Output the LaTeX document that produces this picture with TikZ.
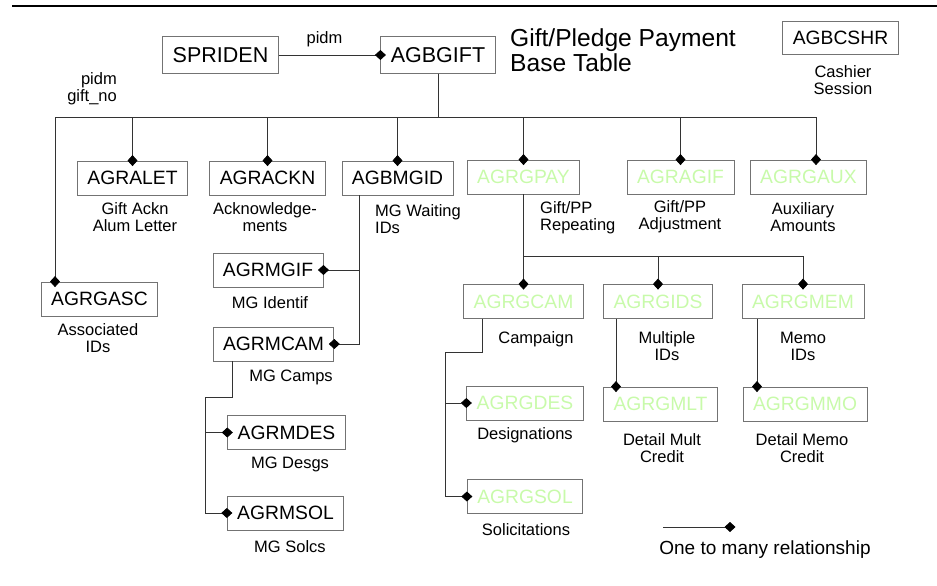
\documentclass[tikz,border=0pt]{standalone}
\usepackage{fontspec}
\setmainfont{Liberation Sans}
\usetikzlibrary{arrows.meta}
\definecolor{tblgreen}{RGB}{200,250,170}
\begin{document}
\begin{tikzpicture}[x=1pt,y=-1pt,
    tbox/.style={draw=black!55,line width=0.8pt,inner xsep=10pt,inner ysep=0pt,
      minimum height=34pt,font=\fontsize{19.3}{20}\selectfont},
    bigtbox/.style={tbox,minimum height=37pt,font=\fontsize{21.5}{22}\selectfont},
    newtbox/.style={tbox,text=tblgreen},
    lbl/.style={font=\fontsize{16.5}{17}\selectfont,align=center,inner sep=0pt},
    rel/.style={draw=black!80,line width=0.8pt,-{Diamond[length=11pt,width=10pt,black]},shorten >=-5.5pt}]
  \useasboundingbox (0,0) rectangle (937,586);
  \draw[line width=2.2pt] (12,6) -- (937,6);

  % Base tables
  \node[bigtbox] (spriden) at (220.5,55) {SPRIDEN};
  \node[bigtbox] (agbgift) at (438,55) {AGBGIFT};
  \node[tbox,minimum height=33pt] (agbcshr) at (840.5,37.5) {AGBCSHR};
  \node[anchor=west,align=left,inner sep=0pt,font=\fontsize{24.6}{25}\selectfont] (title)
    at (510,50.5) {Gift/Pledge Payment\\Base Table};

  % First row
  \node[tbox] (agralet) at (132.5,178) {AGRALET};
  \node[tbox] (agrackn) at (267.5,178) {AGRACKN};
  \node[tbox] (agbmgid) at (397.5,178) {AGBMGID};
  \node[newtbox] (agrgpay) at (523.5,177) {AGRGPAY};
  \node[newtbox] (agragif) at (680.5,177) {AGRAGIF};
  \node[newtbox] (agrgaux) at (808.5,177) {AGRGAUX};
  \node[tbox] (agrgasc) at (99.5,299) {AGRGASC};

  % MG tables
  \node[tbox] (agrmgif) at (268,270) {AGRMGIF};
  \node[tbox] (agrmcam) at (273.5,344) {AGRMCAM};
  \node[tbox] (agrmdes) at (286.5,432.5) {AGRMDES};
  \node[tbox] (agrmsol) at (285.5,513) {AGRMSOL};

  % Repeating tables
  \node[newtbox] (agrgcam) at (523.5,301.5) {AGRGCAM};
  \node[newtbox] (agrgids) at (658,301.5) {AGRGIDS};
  \node[newtbox] (agrgmem) at (803,301.5) {AGRGMEM};
  \node[newtbox] (agrgdes) at (525,403) {AGRGDES};
  \node[newtbox] (agrgsol) at (525,496.5) {AGRGSOL};
  \node[newtbox] (agrgmlt) at (660.5,404) {AGRGMLT};
  \node[newtbox] (agrgmmo) at (805,404) {AGRGMMO};

  % Labels
  \node[lbl] (pidmtop) at (324.5,39) {pidm};
  \node[lbl,anchor=east,align=right] (pidmgift) at (117,89) {pidm\\gift\_no};
  \node[lbl] (lcashier) at (843,80) {Cashier\\Session};
  \node[lbl] (lalet) at (135,217.5) {Gift Ackn\\Alum Letter};
  \node[lbl] (lackn) at (265,217.5) {Acknowledge-\\ments};
  \node[lbl,anchor=west,align=left] (lmgid) at (375,219) {MG Waiting\\IDs};
  \node[lbl,anchor=west,align=left] (lgpay) at (540,218) {Gift/PP\\Repeating};
  \node[lbl] (lagif) at (680,217) {Gift/PP\\Adjustment};
  \node[lbl] (lgaux) at (803,217) {Auxiliary\\Amounts};
  \node[lbl] (lgasc) at (98,338) {Associated\\IDs};
  \node[lbl] (lmgif) at (270,303) {MG Identif};
  \node[lbl] (lmcam) at (291,377) {MG Camps};
  \node[lbl] (lmdes) at (290,464) {MG Desgs};
  \node[lbl] (lmsol) at (290,547) {MG Solcs};
  \node[lbl] (lgcam) at (536,339) {Campaign};
  \node[lbl] (lgids) at (667,346) {Multiple\\IDs};
  \node[lbl] (lgmem) at (803,346) {Memo\\IDs};
  \node[lbl] (lgdes) at (525,435) {Designations};
  \node[lbl] (lgsol) at (526,530) {Solicitations};
  \node[lbl] (lgmlt) at (662,448) {Detail Mult\\Credit};
  \node[lbl] (lgmmo) at (802,448) {Detail Memo\\Credit};

  % Relationships
  \coordinate (giftbus) at (438,117);
  \coordinate (paybus) at (523.5,256);
  \coordinate (mcamturn) at (205,397);
  \coordinate (gcamturn) at (445,352);

  \draw[rel] (spriden.east) -- (agbgift.west);
  \draw[rel] (agbgift.south) |- (giftbus) -| ([xshift=-44.5pt]agrgasc.north);
  \foreach \t in {agralet,agrackn,agbmgid,agrgpay,agragif}
    \draw[rel] (agbgift.south) |- (giftbus) -| (\t.north);
  \draw[rel] (agbgift.south) |- (giftbus) -| ([xshift=7.5pt]agrgaux.north);

  \foreach \t in {agrmgif,agrmcam}
    \draw[rel] ([xshift=-38.5pt]agbmgid.south) |- (\t.east);
  \foreach \t in {agrmdes,agrmsol}
    \draw[rel] ([xshift=-41.5pt]agrmcam.south) |- (mcamturn) |- (\t.west);

  \draw[rel] (agrgpay.south) -- (agrgcam.north);
  \foreach \t in {agrgids,agrgmem}
    \draw[rel] (agrgpay.south) |- (paybus) -| (\t.north);
  \foreach \t in {agrgdes,agrgsol}
    \draw[rel] ([xshift=-41.5pt]agrgcam.south) |- (gcamturn) |- (\t.west);
  \draw[rel] ([xshift=-42pt]agrgids.south) -- ([xshift=-42pt]agrgids.south |- agrgmlt.north);
  \draw[rel] ([xshift=-46pt]agrgmem.south) -- ([xshift=-46pt]agrgmem.south |- agrgmmo.north);

  % Legend
  \coordinate (legfrom) at (663,527);
  \coordinate (legto) at (730,527);
  \draw[rel] (legfrom) -- (legto);
  \node[font=\fontsize{19}{20}\selectfont,inner sep=0pt] (legtext) at (765,550) {One to many relationship};
\end{tikzpicture}
\end{document}
